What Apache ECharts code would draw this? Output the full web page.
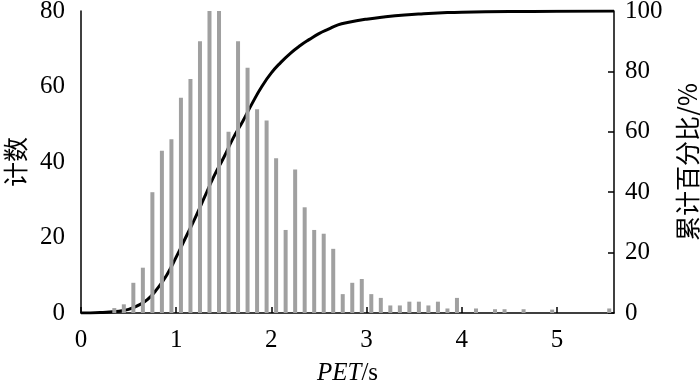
<!DOCTYPE html>
<html>
<head>
<meta charset="utf-8">
<script src="https://cdn.jsdelivr.net/npm/echarts@6/dist/echarts.min.js"></script>
<style>
  html, body { margin: 0; padding: 0; background: #fff; }
  #chart { width: 700px; height: 386px; }
</style>
</head>
<body>
<div id="chart"></div>
<script>
// histogram bins (centre of each 0.1 s bin) and counts
var binCenters = [0.35, 0.45, 0.55, 0.65, 0.75, 0.85, 0.95, 1.05, 1.15, 1.25,
  1.35, 1.45, 1.55, 1.65, 1.75, 1.85, 1.95, 2.05, 2.15, 2.25,
  2.35, 2.45, 2.55, 2.65, 2.75, 2.85, 2.95, 3.05, 3.15, 3.25,
  3.35, 3.45, 3.55, 3.65, 3.75, 3.85, 3.95, 4.15, 4.35, 4.45,
  4.65, 4.95, 5.55];
var counts = [1.3, 2.3, 8, 12, 32, 43, 46, 57, 62, 72,
  80, 80, 48, 72, 65, 54, 51, 41, 22, 38,
  28, 22, 21, 17, 5, 8, 9, 5, 4, 2,
  2, 3, 3, 2, 3, 1.2, 4, 1.2, 1, 1,
  1, 0.9, 1.2];

// cumulative percentage curve
var curveX = [0, 0.2, 0.4, 0.5, 0.6, 0.7, 0.8, 0.9, 1.0, 1.1, 1.2, 1.3, 1.4, 1.5,
  1.6, 1.7, 1.8, 1.9, 2.0, 2.1, 2.2, 2.3, 2.4, 2.5, 2.6, 2.7, 2.8, 3.0,
  3.2, 3.4, 3.6, 3.8, 4.0, 4.5, 5.0, 5.6];
var curvePct = [0, 0.2, 0.6, 1.2, 2.5, 4.5, 8, 12.5, 18.5, 25, 31.5, 38.5, 45.5, 51.5,
  58, 63.5, 69.5, 75, 79.5, 83, 86, 88.5, 90.6, 92.5, 94, 95.4, 96.2, 97.3,
  98.1, 98.7, 99.1, 99.4, 99.6, 99.8, 99.9, 100];

var leftTicks = [0, 20, 40, 60, 80];
var rightTicks = [0, 20, 40, 60, 80, 100];

var serif = '"Liberation Serif", "Times New Roman", serif';
var cjk = '"Noto Sans CJK SC", sans-serif';

var barData = binCenters.map(function (x, i) { return [x, counts[i]]; });
var lineData = curveX.map(function (x, i) { return [x, curvePct[i]]; });

var chart = echarts.init(document.getElementById('chart'));
chart.setOption({
  animation: false,
  backgroundColor: '#fff',
  grid: { left: 81, right: 86, top: 11, bottom: 73, containLabel: false, outerBoundsMode: 'none' },
  xAxis: {
    type: 'value',
    min: 0,
    max: 5.6,
    interval: 1,
    name: '{i|PET}{n|/s}',
    nameLocation: 'middle',
    nameGap: 48,
    nameTextStyle: {
      rich: {
        i: { fontFamily: serif, fontSize: 25, fontStyle: 'italic', color: '#000' },
        n: { fontFamily: serif, fontSize: 25, color: '#000' }
      }
    },
    axisLine: { show: true, onZero: false, lineStyle: { color: '#000', width: 1.5 } },
    axisTick: { show: true, inside: true, length: 6, lineStyle: { color: '#000', width: 1.5 } },
    axisLabel: { fontFamily: serif, fontSize: 25, color: '#000', margin: 15, showMaxLabel: false },
    splitLine: { show: false }
  },
  yAxis: [
    {
      type: 'value',
      min: leftTicks[0],
      max: leftTicks[leftTicks.length - 1],
      interval: 20,
      name: '计数',
      nameLocation: 'middle',
      nameRotate: 90,
      nameGap: 53,
      nameTextStyle: { fontFamily: cjk, fontSize: 25, color: '#000' },
      axisLine: { show: true, lineStyle: { color: '#000', width: 1.5 } },
      axisTick: { show: false },
      axisLabel: { fontFamily: serif, fontSize: 25, color: '#000', margin: 16 },
      splitLine: { show: false }
    },
    {
      type: 'value',
      position: 'right',
      min: rightTicks[0],
      max: rightTicks[rightTicks.length - 1],
      interval: 20,
      name: '累计百分比/%',
      nameLocation: 'middle',
      nameRotate: 90,
      nameGap: 61,
      nameTextStyle: { fontFamily: cjk, fontSize: 25, color: '#000' },
      axisLine: { show: true, lineStyle: { color: '#000', width: 1.5 } },
      axisTick: { show: true, inside: true, length: 6, lineStyle: { color: '#000', width: 1.5 } },
      axisLabel: { fontFamily: serif, fontSize: 25, color: '#000', margin: 11 },
      splitLine: { show: false }
    }
  ],
  series: [
    {
      type: 'line',
      yAxisIndex: 1,
      data: lineData,
      smooth: true,
      symbol: 'none',
      z: 1,
      lineStyle: { color: '#000', width: 3 }
    },
    {
      type: 'bar',
      yAxisIndex: 0,
      data: barData,
      barWidth: 4,
      z: 3,
      itemStyle: { color: '#a0a0a0' }
    }
  ]
});
</script>
</body>
</html>
